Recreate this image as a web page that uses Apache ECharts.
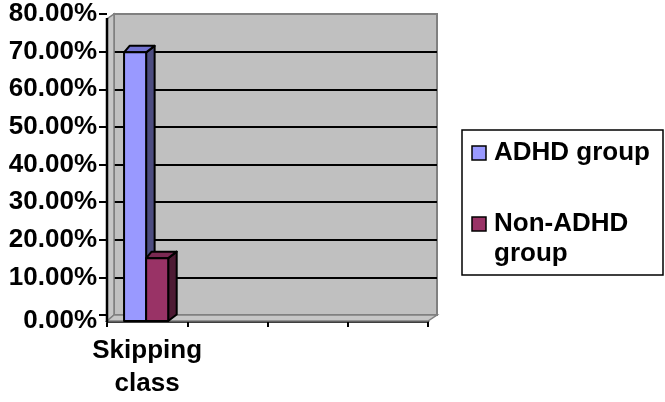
<!DOCTYPE html>
<html>
<head>
<meta charset="utf-8">
<script src="https://cdn.jsdelivr.net/npm/echarts@6/dist/echarts.min.js"></script>
<style>
  html, body { margin: 0; padding: 0; background: #fff; }
  #chart { width: 665px; height: 402px; }
</style>
</head>
<body>
<div id="chart"></div>
<script>
// Chart data
const categories = ['Skipping\nclass', '', '', ''];
const seriesNames = ['ADHD group', 'Non-ADHD group'];
const legendLabels = ['ADHD group', 'Non-ADHD\ngroup'];
const adhdValues = [0.714, null, null, null];
const nonAdhdValues = [0.167, null, null, null];
const yMin = 0, yMax = 0.8, yStep = 0.1;

// Styling
const FONT = '"Liberation Sans", Arial, sans-serif';
const FONT_SIZE = 26;
const palette = [
  { front: '#9999FF', top: '#7373D0', side: '#4D4D80' },
  { front: '#993366', top: '#7A2952', side: '#4D1A33' }
];
// pixel offsets of the 3D depth (front plane -> back wall)
const DX_L = 5.5, DX_R = 8.5, DY = -6.5;
const WALL_DX = 7, WALL_DY = 6;

function toPairs(arr) {
  return arr.map((v, i) => (v == null ? null : [i, v])).filter(Boolean);
}

function barRenderer(idx) {
  return function (params, api) {
    const cat = api.value(0), v = api.value(1);
    const base = api.coord([cat, 0]);
    const top = api.coord([cat, v]);
    const bandW = api.size([1, 0])[0];
    const barW = bandW * 0.275;
    const x0 = base[0] - barW - 1 + idx * barW;
    const x1 = x0 + barW;
    const yT = top[1], yB = base[1];
    const c = palette[idx];
    const stroke = { stroke: '#000', lineWidth: 2, lineJoin: 'round' };
    return {
      type: 'group',
      children: [
        { type: 'polygon', shape: { points: [[x1, yT], [x1 + DX_R, yT + DY], [x1 + DX_R, yB + DY], [x1, yB]] },
          style: Object.assign({ fill: c.side }, stroke) },
        { type: 'polygon', shape: { points: [[x0, yT], [x1, yT], [x1 + DX_R, yT + DY], [x0 + DX_L, yT + DY]] },
          style: Object.assign({ fill: c.top }, stroke) },
        { type: 'rect', shape: { x: x0, y: yT, width: barW, height: yB - yT },
          style: Object.assign({ fill: c.front }, stroke) }
      ]
    };
  };
}

function wallRenderer(params) {
  const cs = params.coordSys;
  const L = cs.x, R = cs.x + cs.width, T = cs.y, B = cs.y + cs.height;
  return {
    type: 'group',
    children: [
      // left side wall
      { type: 'polygon', shape: { points: [[L, T], [L, B], [L - WALL_DX, B + WALL_DY], [L - WALL_DX, T + 5]] },
        style: { fill: '#C6C6C6', stroke: '#808080', lineWidth: 1.5 } },
      // floor
      { type: 'polygon', shape: { points: [[L, B], [R, B], [R - 9, B + WALL_DY], [L - WALL_DX, B + WALL_DY]] },
        style: { fill: '#C6C6C6', stroke: '#808080', lineWidth: 1.5 } },
      // front vertical axis edge
      { type: 'line', shape: { x1: L - WALL_DX, y1: T + 4, x2: L - WALL_DX, y2: B + WALL_DY + 1 },
        style: { stroke: '#000', lineWidth: 2.5 } }
    ]
  };
}

const chart = echarts.init(document.getElementById('chart'), null, { renderer: 'canvas' });

const splitColors = [];
for (let v = yMin; v <= yMax + 1e-9; v += yStep) {
  splitColors.push(v < 1e-9 || v > yMax - 1e-9 ? 'rgba(0,0,0,0)' : '#000');
}

const legendChildren = [
  { type: 'rect', shape: { x: 462, y: 130, width: 201, height: 145 },
    style: { fill: '#fff', stroke: '#000', lineWidth: 1.5 } }
];
const legendRows = [146, 217];
legendLabels.forEach((name, i) => {
  legendChildren.push({ type: 'rect', shape: { x: 472, y: legendRows[i], width: 14, height: 14 },
    style: { fill: palette[i].front, stroke: '#000', lineWidth: 1.5 } });
  legendChildren.push({ type: 'text', x: 494, y: legendRows[i] + 7 - 15,
    style: { text: name, fontFamily: FONT, fontWeight: 'bold', fontSize: FONT_SIZE, lineHeight: 30,
      fill: '#000', verticalAlign: 'top', align: 'left' } });
});

const labelText = { color: '#000', fontFamily: FONT, fontWeight: 'bold', fontSize: FONT_SIZE };

chart.setOption({
  animation: false,
  backgroundColor: '#fff',
  grid: [
    // back wall plane
    { left: 114, right: 228, top: 14, bottom: 87, show: true,
      backgroundColor: '#C0C0C0', borderColor: '#808080', borderWidth: 2 },
    // front plane
    { left: 107, right: 237, top: 20, bottom: 81 }
  ],
  xAxis: [
    { gridIndex: 0, type: 'category', data: categories, show: false },
    { gridIndex: 1, type: 'category', data: categories, boundaryGap: true,
      axisLine: { lineStyle: { color: '#000', width: 2.5 } },
      axisTick: { show: true, length: 6, lineStyle: { color: '#000', width: 2 } },
      axisLabel: Object.assign({ interval: 0, margin: 13, lineHeight: 33 }, labelText) }
  ],
  yAxis: [
    { gridIndex: 0, type: 'value', min: yMin, max: yMax, interval: yStep, offset: 7,
      axisLine: { show: false },
      axisTick: { show: true, length: 8, lineStyle: { color: '#000', width: 2 } },
      axisLabel: Object.assign({
        margin: 10,
        // the zero label sits on the front corner of the floor
        formatter: v => (v === 0 ? '{z|0.00%}' : (v * 100).toFixed(2) + '%'),
        rich: { z: Object.assign({ padding: [12, 0, 0, 0] }, labelText) }
      }, labelText),
      splitLine: { show: true, lineStyle: { color: splitColors, width: 2 } } },
    { gridIndex: 1, type: 'value', min: yMin, max: yMax, interval: yStep, show: false,
      splitLine: { show: false } }
  ],
  series: [
    { type: 'custom', name: 'walls', xAxisIndex: 0, yAxisIndex: 0, renderItem: wallRenderer,
      data: [[0, 0]], silent: true, z: 1 },
    { type: 'custom', name: seriesNames[0], xAxisIndex: 1, yAxisIndex: 1,
      renderItem: barRenderer(0), data: toPairs(adhdValues), z: 3 },
    { type: 'custom', name: seriesNames[1], xAxisIndex: 1, yAxisIndex: 1,
      renderItem: barRenderer(1), data: toPairs(nonAdhdValues), z: 4 }
  ],
  graphic: [{ type: 'group', children: legendChildren }]
});
</script>
</body>
</html>
